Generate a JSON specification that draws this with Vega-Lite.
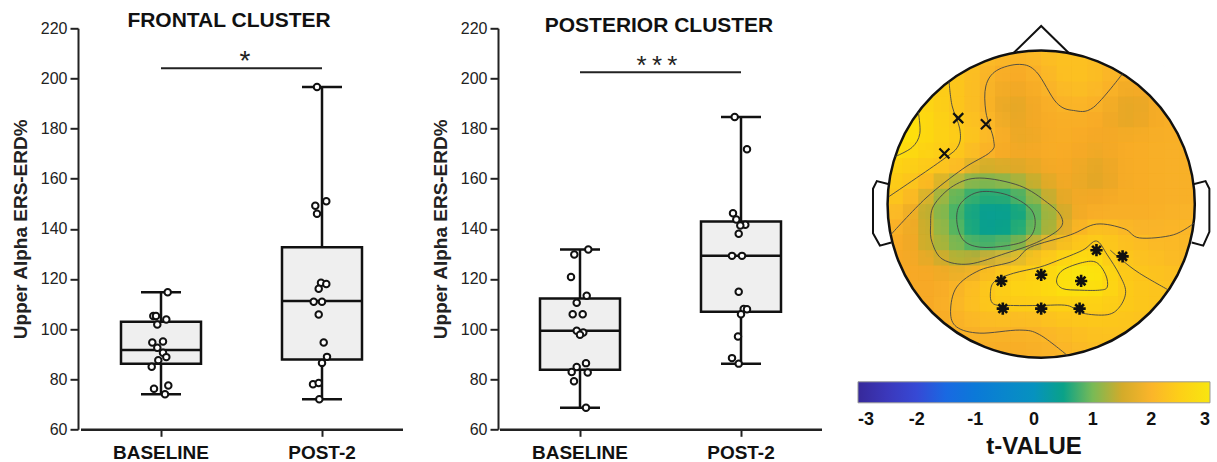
{
"$schema": "https://vega.github.io/schema/vega-lite/v6.json",
"padding": {"left": 11, "top": -28.7, "right": 2, "bottom": 0},
"bounds": "flush",
"spacing": 98,
"config": {
  "font": "Liberation Sans",
  "view": {"stroke": null},
  "axis": {"domainColor": "#222", "domainWidth": 2, "tickColor": "#222", "tickWidth": 2, "labelColor": "#222", "grid": false, "labelFont": "Liberation Sans", "titleFont": "Liberation Sans", "titleColor": "#222"},
  "axisX": {"labelFontSize": 19, "labelFontWeight": "bold", "labelColor": "#111", "tickSize": 7, "labelPadding": 7, "labelAngle": 0, "domainWidth": 2.5},
  "axisY": {"labelFontSize": 16, "tickSize": 8, "labelPadding": 3, "titleFontSize": 19, "titleFontWeight": "bold", "titlePadding": 10}
},
"datasets": {
  "pts": [
    {"cluster":"frontal","phase":"BASELINE","value":114.7,"dx":6.7},
    {"cluster":"frontal","phase":"BASELINE","value":105.2,"dx":-7.7},
    {"cluster":"frontal","phase":"BASELINE","value":105.2,"dx":-5},
    {"cluster":"frontal","phase":"BASELINE","value":101.8,"dx":-3.7},
    {"cluster":"frontal","phase":"BASELINE","value":103.8,"dx":5.3},
    {"cluster":"frontal","phase":"BASELINE","value":94.6,"dx":-8.7},
    {"cluster":"frontal","phase":"BASELINE","value":95.0,"dx":2},
    {"cluster":"frontal","phase":"BASELINE","value":92.5,"dx":-3.7},
    {"cluster":"frontal","phase":"BASELINE","value":90.5,"dx":2},
    {"cluster":"frontal","phase":"BASELINE","value":88.8,"dx":5.3},
    {"cluster":"frontal","phase":"BASELINE","value":87.6,"dx":-2.7},
    {"cluster":"frontal","phase":"BASELINE","value":85.0,"dx":-9.3},
    {"cluster":"frontal","phase":"BASELINE","value":76.2,"dx":-7},
    {"cluster":"frontal","phase":"BASELINE","value":77.5,"dx":7.3},
    {"cluster":"frontal","phase":"BASELINE","value":74.0,"dx":4},
    {"cluster":"frontal","phase":"POST-2","value":196.6,"dx":-5},
    {"cluster":"frontal","phase":"POST-2","value":151.0,"dx":4.3},
    {"cluster":"frontal","phase":"POST-2","value":149.2,"dx":-6.7},
    {"cluster":"frontal","phase":"POST-2","value":146.0,"dx":-5},
    {"cluster":"frontal","phase":"POST-2","value":118.5,"dx":-1},
    {"cluster":"frontal","phase":"POST-2","value":118.0,"dx":4.3},
    {"cluster":"frontal","phase":"POST-2","value":116.1,"dx":-3.3},
    {"cluster":"frontal","phase":"POST-2","value":110.9,"dx":-8.3},
    {"cluster":"frontal","phase":"POST-2","value":110.9,"dx":0},
    {"cluster":"frontal","phase":"POST-2","value":105.8,"dx":-3.3},
    {"cluster":"frontal","phase":"POST-2","value":94.6,"dx":1.7},
    {"cluster":"frontal","phase":"POST-2","value":88.9,"dx":5},
    {"cluster":"frontal","phase":"POST-2","value":86.5,"dx":0},
    {"cluster":"frontal","phase":"POST-2","value":78.0,"dx":-9},
    {"cluster":"frontal","phase":"POST-2","value":78.5,"dx":-3.3},
    {"cluster":"frontal","phase":"POST-2","value":72.0,"dx":-2.7},
    {"cluster":"posterior","phase":"BASELINE","value":131.7,"dx":8.3},
    {"cluster":"posterior","phase":"BASELINE","value":129.7,"dx":-5.7},
    {"cluster":"posterior","phase":"BASELINE","value":120.8,"dx":-9},
    {"cluster":"posterior","phase":"BASELINE","value":113.3,"dx":6.7},
    {"cluster":"posterior","phase":"BASELINE","value":110.5,"dx":-3.3},
    {"cluster":"posterior","phase":"BASELINE","value":105.9,"dx":-7.3},
    {"cluster":"posterior","phase":"BASELINE","value":105.9,"dx":2.7},
    {"cluster":"posterior","phase":"BASELINE","value":99.3,"dx":-3.3},
    {"cluster":"posterior","phase":"BASELINE","value":98.6,"dx":3.3},
    {"cluster":"posterior","phase":"BASELINE","value":97.7,"dx":0},
    {"cluster":"posterior","phase":"BASELINE","value":86.4,"dx":6},
    {"cluster":"posterior","phase":"BASELINE","value":84.9,"dx":-3.3},
    {"cluster":"posterior","phase":"BASELINE","value":82.9,"dx":-8.3},
    {"cluster":"posterior","phase":"BASELINE","value":82.7,"dx":7.7},
    {"cluster":"posterior","phase":"BASELINE","value":79.2,"dx":-6},
    {"cluster":"posterior","phase":"BASELINE","value":68.6,"dx":6},
    {"cluster":"posterior","phase":"POST-2","value":184.6,"dx":-6.3},
    {"cluster":"posterior","phase":"POST-2","value":171.7,"dx":6},
    {"cluster":"posterior","phase":"POST-2","value":146.2,"dx":-8},
    {"cluster":"posterior","phase":"POST-2","value":143.7,"dx":-4.7},
    {"cluster":"posterior","phase":"POST-2","value":141.6,"dx":4.3},
    {"cluster":"posterior","phase":"POST-2","value":141.3,"dx":-0.7},
    {"cluster":"posterior","phase":"POST-2","value":138.0,"dx":-2.3},
    {"cluster":"posterior","phase":"POST-2","value":129.2,"dx":-9},
    {"cluster":"posterior","phase":"POST-2","value":129.2,"dx":1},
    {"cluster":"posterior","phase":"POST-2","value":114.9,"dx":-2.3},
    {"cluster":"posterior","phase":"POST-2","value":108.0,"dx":2.7},
    {"cluster":"posterior","phase":"POST-2","value":107.9,"dx":6},
    {"cluster":"posterior","phase":"POST-2","value":105.9,"dx":0},
    {"cluster":"posterior","phase":"POST-2","value":97.0,"dx":-3},
    {"cluster":"posterior","phase":"POST-2","value":88.4,"dx":-9},
    {"cluster":"posterior","phase":"POST-2","value":86.2,"dx":-2.3}
  ],
  "stats": [
    {"cluster":"frontal","phase":"BASELINE","min":74.0,"q1":86.2,"median":91.6,"q3":102.9,"max":114.7},
    {"cluster":"frontal","phase":"POST-2","min":72.0,"q1":87.8,"median":111.2,"q3":132.6,"max":196.6},
    {"cluster":"posterior","phase":"BASELINE","min":68.6,"q1":83.8,"median":99.3,"q3":112.2,"max":131.7},
    {"cluster":"posterior","phase":"POST-2","min":86.2,"q1":106.9,"median":129.2,"q3":142.9,"max":184.6}
  ],
  "sig": [
    {"cluster":"frontal","a":"BASELINE","b":"POST-2","y":204.1,"label":"*"},
    {"cluster":"posterior","a":"BASELINE","b":"POST-2","y":202.5,"label":"*\u2009*\u2009*"}
  ],
  "topo": [
{"x":-0.3,"y":1,"t":2.2},{"x":-0.2,"y":1,"t":2.15},{"x":-0.1,"y":1,"t":2.1},{"x":0,"y":1,"t":2.15},{"x":0.1,"y":1,"t":2.2},{"x":0.2,"y":1,"t":2.2},{"x":0.3,"y":1,"t":2.15},
{"x":-0.5,"y":0.9,"t":2.25},{"x":-0.4,"y":0.9,"t":2.15},{"x":-0.3,"y":0.9,"t":2.0},{"x":-0.2,"y":0.9,"t":1.95},{"x":-0.1,"y":0.9,"t":1.95},{"x":0,"y":0.9,"t":2.05},{"x":0.1,"y":0.9,"t":2.15},{"x":0.2,"y":0.9,"t":2.2},{"x":0.3,"y":0.9,"t":2.2},{"x":0.4,"y":0.9,"t":2.1},{"x":0.5,"y":0.9,"t":2.0},
{"x":-0.7,"y":0.8,"t":2.5},{"x":-0.6,"y":0.8,"t":2.4},{"x":-0.5,"y":0.8,"t":2.25},{"x":-0.4,"y":0.8,"t":2.1},{"x":-0.3,"y":0.8,"t":1.9},{"x":-0.2,"y":0.8,"t":1.8},{"x":-0.1,"y":0.8,"t":1.8},{"x":0,"y":0.8,"t":1.95},{"x":0.1,"y":0.8,"t":2.1},{"x":0.2,"y":0.8,"t":2.2},{"x":0.3,"y":0.8,"t":2.2},{"x":0.4,"y":0.8,"t":2.1},{"x":0.5,"y":0.8,"t":1.95},{"x":0.6,"y":0.8,"t":1.85},{"x":0.7,"y":0.8,"t":1.85},
{"x":-0.8,"y":0.7,"t":2.55},{"x":-0.7,"y":0.7,"t":2.5},{"x":-0.6,"y":0.7,"t":2.4},{"x":-0.5,"y":0.7,"t":2.25},{"x":-0.4,"y":0.7,"t":2.1},{"x":-0.3,"y":0.7,"t":1.9},{"x":-0.2,"y":0.7,"t":1.7},{"x":-0.1,"y":0.7,"t":1.75},{"x":0,"y":0.7,"t":1.85},{"x":0.1,"y":0.7,"t":2.0},{"x":0.2,"y":0.7,"t":2.1},{"x":0.3,"y":0.7,"t":2.1},{"x":0.4,"y":0.7,"t":2.0},{"x":0.5,"y":0.7,"t":1.85},{"x":0.6,"y":0.7,"t":1.7},{"x":0.7,"y":0.7,"t":1.8},{"x":0.8,"y":0.7,"t":1.85},
{"x":-0.8,"y":0.6,"t":2.7},{"x":-0.7,"y":0.6,"t":2.55},{"x":-0.6,"y":0.6,"t":2.4},{"x":-0.5,"y":0.6,"t":2.25},{"x":-0.4,"y":0.6,"t":2.1},{"x":-0.3,"y":0.6,"t":1.85},{"x":-0.2,"y":0.6,"t":1.6},{"x":-0.1,"y":0.6,"t":1.65},{"x":0,"y":0.6,"t":1.8},{"x":0.1,"y":0.6,"t":1.9},{"x":0.2,"y":0.6,"t":1.95},{"x":0.3,"y":0.6,"t":1.95},{"x":0.4,"y":0.6,"t":1.85},{"x":0.5,"y":0.6,"t":1.7},{"x":0.6,"y":0.6,"t":1.6},{"x":0.7,"y":0.6,"t":1.7},{"x":0.8,"y":0.6,"t":1.85},
{"x":-0.9,"y":0.5,"t":2.85},{"x":-0.8,"y":0.5,"t":2.8},{"x":-0.7,"y":0.5,"t":2.6},{"x":-0.6,"y":0.5,"t":2.5},{"x":-0.5,"y":0.5,"t":2.35},{"x":-0.4,"y":0.5,"t":2.15},{"x":-0.3,"y":0.5,"t":2.0},{"x":-0.2,"y":0.5,"t":1.7},{"x":-0.1,"y":0.5,"t":1.7},{"x":0,"y":0.5,"t":1.8},{"x":0.1,"y":0.5,"t":1.85},{"x":0.2,"y":0.5,"t":1.85},{"x":0.3,"y":0.5,"t":1.85},{"x":0.4,"y":0.5,"t":1.8},{"x":0.5,"y":0.5,"t":1.7},{"x":0.6,"y":0.5,"t":1.65},{"x":0.7,"y":0.5,"t":1.75},{"x":0.8,"y":0.5,"t":1.85},{"x":0.9,"y":0.5,"t":1.9},
{"x":-0.9,"y":0.4,"t":2.85},{"x":-0.8,"y":0.4,"t":2.75},{"x":-0.7,"y":0.4,"t":2.6},{"x":-0.6,"y":0.4,"t":2.5},{"x":-0.5,"y":0.4,"t":2.4},{"x":-0.4,"y":0.4,"t":2.2},{"x":-0.3,"y":0.4,"t":2.0},{"x":-0.2,"y":0.4,"t":1.8},{"x":-0.1,"y":0.4,"t":1.65},{"x":0,"y":0.4,"t":1.75},{"x":0.1,"y":0.4,"t":1.85},{"x":0.2,"y":0.4,"t":1.85},{"x":0.3,"y":0.4,"t":1.8},{"x":0.4,"y":0.4,"t":1.75},{"x":0.5,"y":0.4,"t":1.8},{"x":0.6,"y":0.4,"t":1.85},{"x":0.7,"y":0.4,"t":1.85},{"x":0.8,"y":0.4,"t":1.9},{"x":0.9,"y":0.4,"t":1.9},
{"x":-1,"y":0.3,"t":2.75},{"x":-0.9,"y":0.3,"t":2.7},{"x":-0.8,"y":0.3,"t":2.6},{"x":-0.7,"y":0.3,"t":2.5},{"x":-0.6,"y":0.3,"t":2.4},{"x":-0.5,"y":0.3,"t":2.25},{"x":-0.4,"y":0.3,"t":2.0},{"x":-0.3,"y":0.3,"t":1.85},{"x":-0.2,"y":0.3,"t":1.75},{"x":-0.1,"y":0.3,"t":1.75},{"x":0,"y":0.3,"t":1.8},{"x":0.1,"y":0.3,"t":1.85},{"x":0.2,"y":0.3,"t":1.8},{"x":0.3,"y":0.3,"t":1.75},{"x":0.4,"y":0.3,"t":1.7},{"x":0.5,"y":0.3,"t":1.8},{"x":0.6,"y":0.3,"t":1.85},{"x":0.7,"y":0.3,"t":1.85},{"x":0.8,"y":0.3,"t":1.9},{"x":0.9,"y":0.3,"t":1.9},{"x":1,"y":0.3,"t":1.9},
{"x":-1,"y":0.2,"t":2.5},{"x":-0.9,"y":0.2,"t":2.45},{"x":-0.8,"y":0.2,"t":2.4},{"x":-0.7,"y":0.2,"t":2.3},{"x":-0.6,"y":0.2,"t":2.15},{"x":-0.5,"y":0.2,"t":2.0},{"x":-0.4,"y":0.2,"t":1.4},{"x":-0.3,"y":0.2,"t":1.45},{"x":-0.2,"y":0.2,"t":1.5},{"x":-0.1,"y":0.2,"t":1.55},{"x":0,"y":0.2,"t":1.65},{"x":0.1,"y":0.2,"t":1.8},{"x":0.2,"y":0.2,"t":1.75},{"x":0.3,"y":0.2,"t":1.65},{"x":0.4,"y":0.2,"t":1.6},{"x":0.5,"y":0.2,"t":1.75},{"x":0.6,"y":0.2,"t":1.85},{"x":0.7,"y":0.2,"t":1.85},{"x":0.8,"y":0.2,"t":1.9},{"x":0.9,"y":0.2,"t":1.9},{"x":1,"y":0.2,"t":1.9},
{"x":-1,"y":0.1,"t":2.45},{"x":-0.9,"y":0.1,"t":2.35},{"x":-0.8,"y":0.1,"t":2.2},{"x":-0.7,"y":0.1,"t":1.85},{"x":-0.6,"y":0.1,"t":1.3},{"x":-0.5,"y":0.1,"t":1.05},{"x":-0.4,"y":0.1,"t":0.9},{"x":-0.3,"y":0.1,"t":0.95},{"x":-0.2,"y":0.1,"t":1.0},{"x":-0.1,"y":0.1,"t":1.2},{"x":0,"y":0.1,"t":1.45},{"x":0.1,"y":0.1,"t":1.65},{"x":0.2,"y":0.1,"t":1.75},{"x":0.3,"y":0.1,"t":1.65},{"x":0.4,"y":0.1,"t":1.6},{"x":0.5,"y":0.1,"t":1.75},{"x":0.6,"y":0.1,"t":1.85},{"x":0.7,"y":0.1,"t":1.85},{"x":0.8,"y":0.1,"t":1.9},{"x":0.9,"y":0.1,"t":1.9},{"x":1,"y":0.1,"t":1.9},
{"x":-1,"y":0,"t":2.3},{"x":-0.9,"y":0,"t":2.2},{"x":-0.8,"y":0,"t":1.9},{"x":-0.7,"y":0,"t":1.3},{"x":-0.6,"y":0,"t":1.0},{"x":-0.5,"y":0,"t":0.75},{"x":-0.4,"y":0,"t":0.6},{"x":-0.3,"y":0,"t":0.55},{"x":-0.2,"y":0,"t":0.6},{"x":-0.1,"y":0,"t":0.8},{"x":0,"y":0,"t":1.15},{"x":0.1,"y":0,"t":1.5},{"x":0.2,"y":0,"t":1.7},{"x":0.3,"y":0,"t":1.8},{"x":0.4,"y":0,"t":1.8},{"x":0.5,"y":0,"t":1.85},{"x":0.6,"y":0,"t":1.85},{"x":0.7,"y":0,"t":1.85},{"x":0.8,"y":0,"t":1.9},{"x":0.9,"y":0,"t":1.9},{"x":1,"y":0,"t":1.9},
{"x":-1,"y":-0.1,"t":2.1},{"x":-0.9,"y":-0.1,"t":2.0},{"x":-0.8,"y":-0.1,"t":1.6},{"x":-0.7,"y":-0.1,"t":1.25},{"x":-0.6,"y":-0.1,"t":0.95},{"x":-0.5,"y":-0.1,"t":0.7},{"x":-0.4,"y":-0.1,"t":0.45},{"x":-0.3,"y":-0.1,"t":0.35},{"x":-0.2,"y":-0.1,"t":0.45},{"x":-0.1,"y":-0.1,"t":0.65},{"x":0,"y":-0.1,"t":1.0},{"x":0.1,"y":-0.1,"t":1.25},{"x":0.2,"y":-0.1,"t":1.65},{"x":0.3,"y":-0.1,"t":1.85},{"x":0.4,"y":-0.1,"t":1.9},{"x":0.5,"y":-0.1,"t":1.9},{"x":0.6,"y":-0.1,"t":1.9},{"x":0.7,"y":-0.1,"t":1.9},{"x":0.8,"y":-0.1,"t":1.95},{"x":0.9,"y":-0.1,"t":1.95},{"x":1,"y":-0.1,"t":2.0},
{"x":-1,"y":-0.2,"t":1.95},{"x":-0.9,"y":-0.2,"t":1.85},{"x":-0.8,"y":-0.2,"t":1.7},{"x":-0.7,"y":-0.2,"t":1.35},{"x":-0.6,"y":-0.2,"t":1.05},{"x":-0.5,"y":-0.2,"t":0.75},{"x":-0.4,"y":-0.2,"t":0.5},{"x":-0.3,"y":-0.2,"t":0.45},{"x":-0.2,"y":-0.2,"t":0.55},{"x":-0.1,"y":-0.2,"t":0.75},{"x":0,"y":-0.2,"t":1.1},{"x":0.1,"y":-0.2,"t":1.4},{"x":0.2,"y":-0.2,"t":1.85},{"x":0.3,"y":-0.2,"t":2.15},{"x":0.4,"y":-0.2,"t":2.3},{"x":0.5,"y":-0.2,"t":2.15},{"x":0.6,"y":-0.2,"t":2.05},{"x":0.7,"y":-0.2,"t":2.0},{"x":0.8,"y":-0.2,"t":2.0},{"x":0.9,"y":-0.2,"t":2.05},{"x":1,"y":-0.2,"t":2.05},
{"x":-1,"y":-0.3,"t":1.85},{"x":-0.9,"y":-0.3,"t":1.8},{"x":-0.8,"y":-0.3,"t":1.7},{"x":-0.7,"y":-0.3,"t":1.35},{"x":-0.6,"y":-0.3,"t":1.2},{"x":-0.5,"y":-0.3,"t":1.0},{"x":-0.4,"y":-0.3,"t":0.85},{"x":-0.3,"y":-0.3,"t":0.9},{"x":-0.2,"y":-0.3,"t":1.0},{"x":-0.1,"y":-0.3,"t":1.25},{"x":0,"y":-0.3,"t":1.9},{"x":0.1,"y":-0.3,"t":2.15},{"x":0.2,"y":-0.3,"t":2.35},{"x":0.3,"y":-0.3,"t":2.45},{"x":0.4,"y":-0.3,"t":2.45},{"x":0.5,"y":-0.3,"t":2.3},{"x":0.6,"y":-0.3,"t":2.2},{"x":0.7,"y":-0.3,"t":2.15},{"x":0.8,"y":-0.3,"t":2.1},{"x":0.9,"y":-0.3,"t":2.1},{"x":1,"y":-0.3,"t":2.05},
{"x":-0.9,"y":-0.4,"t":1.8},{"x":-0.8,"y":-0.4,"t":1.75},{"x":-0.7,"y":-0.4,"t":1.7},{"x":-0.6,"y":-0.4,"t":1.5},{"x":-0.5,"y":-0.4,"t":1.35},{"x":-0.4,"y":-0.4,"t":1.6},{"x":-0.3,"y":-0.4,"t":1.9},{"x":-0.2,"y":-0.4,"t":2.05},{"x":-0.1,"y":-0.4,"t":2.2},{"x":0,"y":-0.4,"t":2.4},{"x":0.1,"y":-0.4,"t":2.55},{"x":0.2,"y":-0.4,"t":2.75},{"x":0.3,"y":-0.4,"t":2.8},{"x":0.4,"y":-0.4,"t":2.7},{"x":0.5,"y":-0.4,"t":2.35},{"x":0.6,"y":-0.4,"t":2.3},{"x":0.7,"y":-0.4,"t":2.2},{"x":0.8,"y":-0.4,"t":2.15},{"x":0.9,"y":-0.4,"t":2.1},
{"x":-0.9,"y":-0.5,"t":1.8},{"x":-0.8,"y":-0.5,"t":1.8},{"x":-0.7,"y":-0.5,"t":1.8},{"x":-0.6,"y":-0.5,"t":1.85},{"x":-0.5,"y":-0.5,"t":1.95},{"x":-0.4,"y":-0.5,"t":2.1},{"x":-0.3,"y":-0.5,"t":2.35},{"x":-0.2,"y":-0.5,"t":2.5},{"x":-0.1,"y":-0.5,"t":2.55},{"x":0,"y":-0.5,"t":2.6},{"x":0.1,"y":-0.5,"t":2.75},{"x":0.2,"y":-0.5,"t":2.95},{"x":0.3,"y":-0.5,"t":3.0},{"x":0.4,"y":-0.5,"t":2.85},{"x":0.5,"y":-0.5,"t":2.5},{"x":0.6,"y":-0.5,"t":2.35},{"x":0.7,"y":-0.5,"t":2.3},{"x":0.8,"y":-0.5,"t":2.25},{"x":0.9,"y":-0.5,"t":2.2},
{"x":-0.8,"y":-0.6,"t":1.8},{"x":-0.7,"y":-0.6,"t":1.8},{"x":-0.6,"y":-0.6,"t":1.9},{"x":-0.5,"y":-0.6,"t":2.1},{"x":-0.4,"y":-0.6,"t":2.25},{"x":-0.3,"y":-0.6,"t":2.4},{"x":-0.2,"y":-0.6,"t":2.5},{"x":-0.1,"y":-0.6,"t":2.55},{"x":0,"y":-0.6,"t":2.6},{"x":0.1,"y":-0.6,"t":2.7},{"x":0.2,"y":-0.6,"t":2.75},{"x":0.3,"y":-0.6,"t":2.75},{"x":0.4,"y":-0.6,"t":2.7},{"x":0.5,"y":-0.6,"t":2.5},{"x":0.6,"y":-0.6,"t":2.35},{"x":0.7,"y":-0.6,"t":2.3},{"x":0.8,"y":-0.6,"t":2.25},
{"x":-0.8,"y":-0.7,"t":1.8},{"x":-0.7,"y":-0.7,"t":1.8},{"x":-0.6,"y":-0.7,"t":1.95},{"x":-0.5,"y":-0.7,"t":2.1},{"x":-0.4,"y":-0.7,"t":2.2},{"x":-0.3,"y":-0.7,"t":2.35},{"x":-0.2,"y":-0.7,"t":2.35},{"x":-0.1,"y":-0.7,"t":2.4},{"x":0,"y":-0.7,"t":2.4},{"x":0.1,"y":-0.7,"t":2.45},{"x":0.2,"y":-0.7,"t":2.45},{"x":0.3,"y":-0.7,"t":2.45},{"x":0.4,"y":-0.7,"t":2.45},{"x":0.5,"y":-0.7,"t":2.4},{"x":0.6,"y":-0.7,"t":2.35},{"x":0.7,"y":-0.7,"t":2.3},{"x":0.8,"y":-0.7,"t":2.25},
{"x":-0.7,"y":-0.8,"t":1.8},{"x":-0.6,"y":-0.8,"t":1.85},{"x":-0.5,"y":-0.8,"t":1.95},{"x":-0.4,"y":-0.8,"t":2.05},{"x":-0.3,"y":-0.8,"t":2.1},{"x":-0.2,"y":-0.8,"t":2.1},{"x":-0.1,"y":-0.8,"t":2.05},{"x":0,"y":-0.8,"t":2.1},{"x":0.1,"y":-0.8,"t":2.2},{"x":0.2,"y":-0.8,"t":2.25},{"x":0.3,"y":-0.8,"t":2.3},{"x":0.4,"y":-0.8,"t":2.3},{"x":0.5,"y":-0.8,"t":2.3},{"x":0.6,"y":-0.8,"t":2.25},{"x":0.7,"y":-0.8,"t":2.2},
{"x":-0.5,"y":-0.9,"t":1.85},{"x":-0.4,"y":-0.9,"t":1.9},{"x":-0.3,"y":-0.9,"t":1.9},{"x":-0.2,"y":-0.9,"t":1.9},{"x":-0.1,"y":-0.9,"t":1.9},{"x":0,"y":-0.9,"t":1.95},{"x":0.1,"y":-0.9,"t":2.0},{"x":0.2,"y":-0.9,"t":2.1},{"x":0.3,"y":-0.9,"t":2.15},{"x":0.4,"y":-0.9,"t":2.2},{"x":0.5,"y":-0.9,"t":2.2},
{"x":-0.3,"y":-1,"t":1.85},{"x":-0.2,"y":-1,"t":1.85},{"x":-0.1,"y":-1,"t":1.85},{"x":0,"y":-1,"t":1.9},{"x":0.1,"y":-1,"t":1.95},{"x":0.2,"y":-1,"t":2.05},{"x":0.3,"y":-1,"t":2.1}
  ],
  "center": [{"x":0,"y":0}],
  "head": [
    {"p":"nose","i":0,"x":-0.18,"y":0.984},{"p":"nose","i":1,"x":0,"y":1.16},{"p":"nose","i":2,"x":0.18,"y":0.984},
    {"p":"earL","i":0,"x":-0.99,"y":0.13},{"p":"earL","i":1,"x":-1.07,"y":0.15},{"p":"earL","i":2,"x":-1.095,"y":0.1},{"p":"earL","i":3,"x":-1.095,"y":-0.19},{"p":"earL","i":4,"x":-1.05,"y":-0.27},{"p":"earL","i":5,"x":-0.975,"y":-0.25},
    {"p":"earR","i":0,"x":0.99,"y":0.13},{"p":"earR","i":1,"x":1.07,"y":0.15},{"p":"earR","i":2,"x":1.095,"y":0.1},{"p":"earR","i":3,"x":1.095,"y":-0.18},{"p":"earR","i":4,"x":1.055,"y":-0.27},{"p":"earR","i":5,"x":0.98,"y":-0.25}
  ],
  "contours": [
    {"c":"L1","closed":false,"i":0,"x":-0.8,"y":0.6},{"c":"L1","closed":false,"i":1,"x":-0.79,"y":0.46},{"c":"L1","closed":false,"i":2,"x":-0.84,"y":0.37},{"c":"L1","closed":false,"i":3,"x":-0.95,"y":0.31},
    {"c":"L2","closed":false,"i":0,"x":-0.6,"y":0.8},{"c":"L2","closed":false,"i":1,"x":-0.58,"y":0.64},{"c":"L2","closed":false,"i":2,"x":-0.53,"y":0.49},{"c":"L2","closed":false,"i":3,"x":-0.54,"y":0.38},{"c":"L2","closed":false,"i":4,"x":-0.64,"y":0.29},{"c":"L2","closed":false,"i":5,"x":-0.99,"y":0.05},
    {"c":"L3","closed":false,"i":0,"x":-0.98,"y":-0.2},{"c":"L3","closed":false,"i":1,"x":-0.75,"y":0.04},{"c":"L3","closed":false,"i":2,"x":-0.51,"y":0.23},{"c":"L3","closed":false,"i":3,"x":-0.33,"y":0.34},{"c":"L3","closed":false,"i":4,"x":-0.31,"y":0.42},{"c":"L3","closed":false,"i":5,"x":-0.36,"y":0.6},{"c":"L3","closed":false,"i":6,"x":-0.36,"y":0.77},{"c":"L3","closed":false,"i":7,"x":-0.29,"y":0.87},{"c":"L3","closed":false,"i":8,"x":-0.14,"y":0.91},{"c":"L3","closed":false,"i":9,"x":-0.03,"y":0.86},{"c":"L3","closed":false,"i":10,"x":0.1,"y":0.66},{"c":"L3","closed":false,"i":11,"x":0.21,"y":0.61},{"c":"L3","closed":false,"i":12,"x":0.34,"y":0.63},{"c":"L3","closed":false,"i":13,"x":0.53,"y":0.85},
    {"c":"P1","closed":false,"i":0,"x":1.0,"y":-0.12},{"c":"P1","closed":false,"i":1,"x":0.86,"y":-0.2},{"c":"P1","closed":false,"i":2,"x":0.64,"y":-0.22},{"c":"P1","closed":false,"i":3,"x":0.54,"y":-0.16},{"c":"P1","closed":false,"i":4,"x":0.36,"y":-0.13},{"c":"P1","closed":false,"i":5,"x":0.19,"y":-0.2},{"c":"P1","closed":false,"i":6,"x":-0.07,"y":-0.28},{"c":"P1","closed":false,"i":7,"x":-0.18,"y":-0.37},{"c":"P1","closed":false,"i":8,"x":-0.4,"y":-0.43},{"c":"P1","closed":false,"i":9,"x":-0.55,"y":-0.54},{"c":"P1","closed":false,"i":10,"x":-0.59,"y":-0.7},{"c":"P1","closed":false,"i":11,"x":-0.55,"y":-0.8},{"c":"P1","closed":false,"i":12,"x":-0.4,"y":-0.84},{"c":"P1","closed":false,"i":13,"x":-0.14,"y":-0.82},{"c":"P1","closed":false,"i":14,"x":-0.01,"y":-0.85},{"c":"P1","closed":false,"i":15,"x":0.17,"y":-0.985},
    {"c":"P4","closed":false,"i":0,"x":0.45,"y":-0.3},{"c":"P4","closed":false,"i":1,"x":0.52,"y":-0.36},{"c":"P4","closed":false,"i":2,"x":0.64,"y":-0.45},{"c":"P4","closed":false,"i":3,"x":0.83,"y":-0.56},
    {"c":"G1","closed":true,"i":0,"x":-0.72,"y":-0.14},{"c":"G1","closed":true,"i":1,"x":-0.7,"y":-0.01},{"c":"G1","closed":true,"i":2,"x":-0.57,"y":0.12},{"c":"G1","closed":true,"i":3,"x":-0.4,"y":0.17},{"c":"G1","closed":true,"i":4,"x":-0.14,"y":0.12},{"c":"G1","closed":true,"i":5,"x":0.04,"y":0.01},{"c":"G1","closed":true,"i":6,"x":0.13,"y":-0.08},{"c":"G1","closed":true,"i":7,"x":0.12,"y":-0.16},{"c":"G1","closed":true,"i":8,"x":-0.03,"y":-0.25},{"c":"G1","closed":true,"i":9,"x":-0.23,"y":-0.32},{"c":"G1","closed":true,"i":10,"x":-0.47,"y":-0.39},{"c":"G1","closed":true,"i":11,"x":-0.64,"y":-0.36},{"c":"G1","closed":true,"i":12,"x":-0.71,"y":-0.25},
    {"c":"G2","closed":true,"i":0,"x":-0.55,"y":-0.1},{"c":"G2","closed":true,"i":1,"x":-0.52,"y":0.01},{"c":"G2","closed":true,"i":2,"x":-0.4,"y":0.08},{"c":"G2","closed":true,"i":3,"x":-0.22,"y":0.06},{"c":"G2","closed":true,"i":4,"x":-0.07,"y":-0.03},{"c":"G2","closed":true,"i":5,"x":-0.04,"y":-0.14},{"c":"G2","closed":true,"i":6,"x":-0.09,"y":-0.23},{"c":"G2","closed":true,"i":7,"x":-0.22,"y":-0.27},{"c":"G2","closed":true,"i":8,"x":-0.4,"y":-0.28},{"c":"G2","closed":true,"i":9,"x":-0.51,"y":-0.23},
    {"c":"P2","closed":true,"i":0,"x":0.36,"y":-0.24},{"c":"P2","closed":true,"i":1,"x":0.43,"y":-0.33},{"c":"P2","closed":true,"i":2,"x":0.51,"y":-0.46},{"c":"P2","closed":true,"i":3,"x":0.55,"y":-0.57},{"c":"P2","closed":true,"i":4,"x":0.51,"y":-0.67},{"c":"P2","closed":true,"i":5,"x":0.43,"y":-0.72},{"c":"P2","closed":true,"i":6,"x":0.27,"y":-0.71},{"c":"P2","closed":true,"i":7,"x":0.17,"y":-0.66},{"c":"P2","closed":true,"i":8,"x":-0.01,"y":-0.66},{"c":"P2","closed":true,"i":9,"x":-0.18,"y":-0.66},{"c":"P2","closed":true,"i":10,"x":-0.31,"y":-0.65},{"c":"P2","closed":true,"i":11,"x":-0.33,"y":-0.57},{"c":"P2","closed":true,"i":12,"x":-0.3,"y":-0.5},{"c":"P2","closed":true,"i":13,"x":-0.18,"y":-0.45},{"c":"P2","closed":true,"i":14,"x":-0.01,"y":-0.41},{"c":"P2","closed":true,"i":15,"x":0.1,"y":-0.37},{"c":"P2","closed":true,"i":16,"x":0.27,"y":-0.3},
    {"c":"P3","closed":true,"i":0,"x":0.1,"y":-0.5},{"c":"P3","closed":true,"i":1,"x":0.14,"y":-0.43},{"c":"P3","closed":true,"i":2,"x":0.27,"y":-0.38},{"c":"P3","closed":true,"i":3,"x":0.36,"y":-0.38},{"c":"P3","closed":true,"i":4,"x":0.42,"y":-0.46},{"c":"P3","closed":true,"i":5,"x":0.43,"y":-0.54},{"c":"P3","closed":true,"i":6,"x":0.38,"y":-0.56},{"c":"P3","closed":true,"i":7,"x":0.25,"y":-0.56},{"c":"P3","closed":true,"i":8,"x":0.14,"y":-0.55}
  ],
  "markers": [
    {"kind":"cross","x":-0.54,"y":0.56},{"kind":"cross","x":-0.36,"y":0.52},{"kind":"cross","x":-0.63,"y":0.33},
    {"kind":"star","x":0.36,"y":-0.3},{"kind":"star","x":0.53,"y":-0.34},{"kind":"star","x":-0.26,"y":-0.5},{"kind":"star","x":0.0,"y":-0.46},{"kind":"star","x":0.26,"y":-0.5},{"kind":"star","x":-0.25,"y":-0.68},{"kind":"star","x":0.0,"y":-0.68},{"kind":"star","x":0.25,"y":-0.68}
  ]
},
"hconcat": [
  {
    "width": 322, "height": 401,
    "title": {"text": "FRONTAL CLUSTER", "fontSize": 21, "fontWeight": "bold", "font": "Liberation Sans", "color": "#111", "dx": -10, "offset": -11, "anchor": "middle", "frame": "group"},
    "layer": [
      {"data": {"name": "stats"}, "transform": [{"filter": "datum.cluster === 'frontal'"}],
       "mark": {"type": "rule", "stroke": "#111", "strokeWidth": 2.5},
       "encoding": {
         "x": {"field": "phase", "type": "nominal", "sort": ["BASELINE", "POST-2"], "scale": {"type": "band", "range": [2.5, 324.5], "paddingInner": 0, "paddingOuter": 0}, "title": null},
         "y": {"field": "min", "type": "quantitative", "scale": {"domain": [60, 220], "nice": false, "zero": false}, "axis": {"values": [60, 80, 100, 120, 140, 160, 180, 200, 220]}, "title": "Upper Alpha ERS-ERD%"},
         "y2": {"field": "max"}}},
      {"data": {"name": "stats"}, "transform": [{"filter": "datum.cluster === 'frontal'"}],
       "mark": {"type": "tick", "size": 40, "thickness": 2.5, "color": "#111", "opacity": 1},
       "encoding": {"x": {"field": "phase", "type": "nominal", "sort": ["BASELINE", "POST-2"], "title": null}, "y": {"field": "min", "type": "quantitative", "title": "Upper Alpha ERS-ERD%"}}},
      {"data": {"name": "stats"}, "transform": [{"filter": "datum.cluster === 'frontal'"}],
       "mark": {"type": "tick", "size": 40, "thickness": 2.5, "color": "#111", "opacity": 1},
       "encoding": {"x": {"field": "phase", "type": "nominal", "sort": ["BASELINE", "POST-2"], "title": null}, "y": {"field": "max", "type": "quantitative", "title": "Upper Alpha ERS-ERD%"}}},
      {"data": {"name": "stats"}, "transform": [{"filter": "datum.cluster === 'frontal'"}],
       "mark": {"type": "bar", "size": 80, "fill": "#efefef", "stroke": "#111", "strokeWidth": 2.5},
       "encoding": {"x": {"field": "phase", "type": "nominal", "sort": ["BASELINE", "POST-2"], "title": null}, "y": {"field": "q1", "type": "quantitative", "title": "Upper Alpha ERS-ERD%"}, "y2": {"field": "q3"}}},
      {"data": {"name": "stats"}, "transform": [{"filter": "datum.cluster === 'frontal'"}],
       "mark": {"type": "tick", "size": 80, "thickness": 2.5, "color": "#111", "opacity": 1},
       "encoding": {"x": {"field": "phase", "type": "nominal", "sort": ["BASELINE", "POST-2"], "title": null}, "y": {"field": "median", "type": "quantitative", "title": "Upper Alpha ERS-ERD%"}}},
      {"data": {"name": "pts"}, "transform": [{"filter": "datum.cluster === 'frontal'"}],
       "mark": {"type": "point", "filled": true, "fill": "#ffffff", "stroke": "#111", "strokeWidth": 2, "size": 42, "opacity": 1},
       "encoding": {"x": {"field": "phase", "type": "nominal", "sort": ["BASELINE", "POST-2"], "title": null},
         "xOffset": {"field": "dx", "type": "quantitative", "scale": {"domain": [-20, 20], "range": [60.5, 100.5]}},
         "y": {"field": "value", "type": "quantitative", "title": "Upper Alpha ERS-ERD%"}}},
      {"data": {"name": "sig"}, "transform": [{"filter": "datum.cluster === 'frontal'"}],
       "mark": {"type": "rule", "stroke": "#222", "strokeWidth": 2},
       "encoding": {"x": {"field": "a", "type": "nominal", "sort": ["BASELINE", "POST-2"], "title": null}, "x2": {"field": "b"}, "y": {"field": "y", "type": "quantitative", "title": "Upper Alpha ERS-ERD%"}}},
      {"data": {"name": "sig"}, "transform": [{"filter": "datum.cluster === 'frontal'"}],
       "mark": {"type": "text", "fontSize": 28, "dx": 84, "dy": 2, "baseline": "alphabetic", "align": "center", "color": "#222"},
       "encoding": {"x": {"field": "a", "type": "nominal", "sort": ["BASELINE", "POST-2"], "title": null}, "y": {"field": "y", "type": "quantitative", "title": "Upper Alpha ERS-ERD%"}, "text": {"field": "label"}}}
    ]
  },
  {
    "width": 322, "height": 401,
    "title": {"text": "POSTERIOR CLUSTER", "fontSize": 21, "fontWeight": "bold", "font": "Liberation Sans", "color": "#111", "dx": 0, "offset": -16, "anchor": "middle", "frame": "group"},
    "layer": [
      {"data": {"name": "stats"}, "transform": [{"filter": "datum.cluster === 'posterior'"}],
       "mark": {"type": "rule", "stroke": "#111", "strokeWidth": 2.5},
       "encoding": {
         "x": {"field": "phase", "type": "nominal", "sort": ["BASELINE", "POST-2"], "scale": {"type": "band", "range": [1.5, 323.5], "paddingInner": 0, "paddingOuter": 0}, "title": null},
         "y": {"field": "min", "type": "quantitative", "scale": {"domain": [60, 220], "nice": false, "zero": false}, "axis": {"values": [60, 80, 100, 120, 140, 160, 180, 200, 220]}, "title": "Upper Alpha ERS-ERD%"},
         "y2": {"field": "max"}}},
      {"data": {"name": "stats"}, "transform": [{"filter": "datum.cluster === 'posterior'"}],
       "mark": {"type": "tick", "size": 40, "thickness": 2.5, "color": "#111", "opacity": 1},
       "encoding": {"x": {"field": "phase", "type": "nominal", "sort": ["BASELINE", "POST-2"], "title": null}, "y": {"field": "min", "type": "quantitative", "title": "Upper Alpha ERS-ERD%"}}},
      {"data": {"name": "stats"}, "transform": [{"filter": "datum.cluster === 'posterior'"}],
       "mark": {"type": "tick", "size": 40, "thickness": 2.5, "color": "#111", "opacity": 1},
       "encoding": {"x": {"field": "phase", "type": "nominal", "sort": ["BASELINE", "POST-2"], "title": null}, "y": {"field": "max", "type": "quantitative", "title": "Upper Alpha ERS-ERD%"}}},
      {"data": {"name": "stats"}, "transform": [{"filter": "datum.cluster === 'posterior'"}],
       "mark": {"type": "bar", "size": 80, "fill": "#efefef", "stroke": "#111", "strokeWidth": 2.5},
       "encoding": {"x": {"field": "phase", "type": "nominal", "sort": ["BASELINE", "POST-2"], "title": null}, "y": {"field": "q1", "type": "quantitative", "title": "Upper Alpha ERS-ERD%"}, "y2": {"field": "q3"}}},
      {"data": {"name": "stats"}, "transform": [{"filter": "datum.cluster === 'posterior'"}],
       "mark": {"type": "tick", "size": 80, "thickness": 2.5, "color": "#111", "opacity": 1},
       "encoding": {"x": {"field": "phase", "type": "nominal", "sort": ["BASELINE", "POST-2"], "title": null}, "y": {"field": "median", "type": "quantitative", "title": "Upper Alpha ERS-ERD%"}}},
      {"data": {"name": "pts"}, "transform": [{"filter": "datum.cluster === 'posterior'"}],
       "mark": {"type": "point", "filled": true, "fill": "#ffffff", "stroke": "#111", "strokeWidth": 2, "size": 42, "opacity": 1},
       "encoding": {"x": {"field": "phase", "type": "nominal", "sort": ["BASELINE", "POST-2"], "title": null},
         "xOffset": {"field": "dx", "type": "quantitative", "scale": {"domain": [-20, 20], "range": [60.5, 100.5]}},
         "y": {"field": "value", "type": "quantitative", "title": "Upper Alpha ERS-ERD%"}}},
      {"data": {"name": "sig"}, "transform": [{"filter": "datum.cluster === 'posterior'"}],
       "mark": {"type": "rule", "stroke": "#222", "strokeWidth": 2},
       "encoding": {"x": {"field": "a", "type": "nominal", "sort": ["BASELINE", "POST-2"], "title": null}, "x2": {"field": "b"}, "y": {"field": "y", "type": "quantitative", "title": "Upper Alpha ERS-ERD%"}}},
      {"data": {"name": "sig"}, "transform": [{"filter": "datum.cluster === 'posterior'"}],
       "mark": {"type": "text", "fontSize": 26, "dx": 77, "dy": 2, "baseline": "alphabetic", "align": "center", "color": "#222"},
       "encoding": {"x": {"field": "a", "type": "nominal", "sort": ["BASELINE", "POST-2"], "title": null}, "y": {"field": "y", "type": "quantitative", "title": "Upper Alpha ERS-ERD%"}, "text": {"field": "label"}}}
    ]
  },
  {
    "width": 292, "height": 354,
    "layer": [
      {"data": {"name": "topo"},
       "mark": {"type": "square", "size": 272, "opacity": 1, "strokeWidth": 0},
       "encoding": {
         "x": {"field": "x", "type": "quantitative", "scale": {"domain": [-0.802, 1.099], "nice": false, "zero": false}, "axis": null},
         "y": {"field": "y", "type": "quantitative", "scale": {"domain": [-1.16, 1.145], "nice": false, "zero": false}, "axis": null},
         "color": {"field": "t", "type": "quantitative",
           "scale": {"domain": [-3, -2.3, -1.75, -1.7, -1, 0, 0.5, 0.65, 0.75, 1, 1.3, 1.6, 1.8, 2, 2.3, 2.6, 2.85, 3],
                     "range": ["#37299a", "#3c3ec8", "#3153e0", "#1f62e6", "#0b79d8", "#0692bf", "#0aa288", "#14a77c", "#40b46a", "#78ba56", "#b5b232", "#e2a826", "#f7aa26", "#fbb52a", "#fcc61d", "#fdd514", "#fde30c", "#f8e610"],
                     "interpolate": "rgb", "clamp": true},
           "legend": {"orient": "none", "legendX": 780, "legendY": 353.5, "direction": "horizontal", "gradientLength": 352, "gradientThickness": 21,
             "title": "t-VALUE", "titleOrient": "bottom", "titleAnchor": "middle", "titleFontSize": 24, "titleFont": "Liberation Sans", "titleFontWeight": "bold", "titleColor": "#111", "titlePadding": 6,
             "labelFontSize": 18, "labelFontWeight": "bold", "labelFont": "Liberation Sans", "labelColor": "#111", "labelAlign": "center", "labelOffset": 8,
             "values": [-3, -2, -1, 0, 1, 2, 3], "labelExpr": "'' + datum.value", "gradientStrokeColor": "#999", "gradientStrokeWidth": 1}}}},
      {"data": {"name": "topo"},
       "mark": {"type": "square", "size": 944, "opacity": 0.42, "strokeWidth": 0},
       "encoding": {
         "x": {"field": "x", "type": "quantitative"},
         "y": {"field": "y", "type": "quantitative"},
         "color": {"field": "t", "type": "quantitative"}}},
      {"data": {"name": "center"},
       "mark": {"type": "point", "shape": "circle", "size": 114650, "filled": false, "stroke": "#ffffff", "strokeWidth": 31.4, "opacity": 1},
       "encoding": {"x": {"field": "x", "type": "quantitative"}, "y": {"field": "y", "type": "quantitative"}}},
      {"data": {"name": "center"},
       "mark": {"type": "point", "shape": "circle", "size": 94372, "filled": false, "stroke": "#111", "strokeWidth": 2.5, "opacity": 1},
       "encoding": {"x": {"field": "x", "type": "quantitative"}, "y": {"field": "y", "type": "quantitative"}}},
      {"data": {"name": "head"},
       "mark": {"type": "line", "stroke": "#111", "strokeWidth": 2},
       "encoding": {"x": {"field": "x", "type": "quantitative"}, "y": {"field": "y", "type": "quantitative"}, "detail": {"field": "p"}, "order": {"field": "i"}}},
      {"data": {"name": "contours"}, "transform": [{"filter": "!datum.closed"}],
       "mark": {"type": "line", "stroke": "#444", "strokeWidth": 0.9, "interpolate": "cardinal"},
       "encoding": {"x": {"field": "x", "type": "quantitative"}, "y": {"field": "y", "type": "quantitative"}, "detail": {"field": "c"}, "order": {"field": "i"}}},
      {"data": {"name": "contours"}, "transform": [{"filter": "datum.closed"}],
       "mark": {"type": "line", "stroke": "#444", "strokeWidth": 0.9, "interpolate": "cardinal-closed"},
       "encoding": {"x": {"field": "x", "type": "quantitative"}, "y": {"field": "y", "type": "quantitative"}, "detail": {"field": "c"}, "order": {"field": "i"}}},
      {"data": {"name": "markers"}, "transform": [{"filter": "datum.kind === 'cross'"}],
       "mark": {"type": "point", "shape": "M-1,-1L1,1M-1,1L1,-1", "size": 100, "filled": false, "stroke": "#111", "strokeWidth": 2.2, "opacity": 1},
       "encoding": {"x": {"field": "x", "type": "quantitative"}, "y": {"field": "y", "type": "quantitative"}}},
      {"data": {"name": "markers"}, "transform": [{"filter": "datum.kind === 'star'"}],
       "mark": {"type": "point", "shape": "M0,-1L0,1M-1,0L1,0M-0.71,-0.71L0.71,0.71M-0.71,0.71L0.71,-0.71", "size": 150, "filled": false, "stroke": "#111", "strokeWidth": 2.6, "opacity": 1},
       "encoding": {"x": {"field": "x", "type": "quantitative"}, "y": {"field": "y", "type": "quantitative"}}}
    ]
  }
]
}
